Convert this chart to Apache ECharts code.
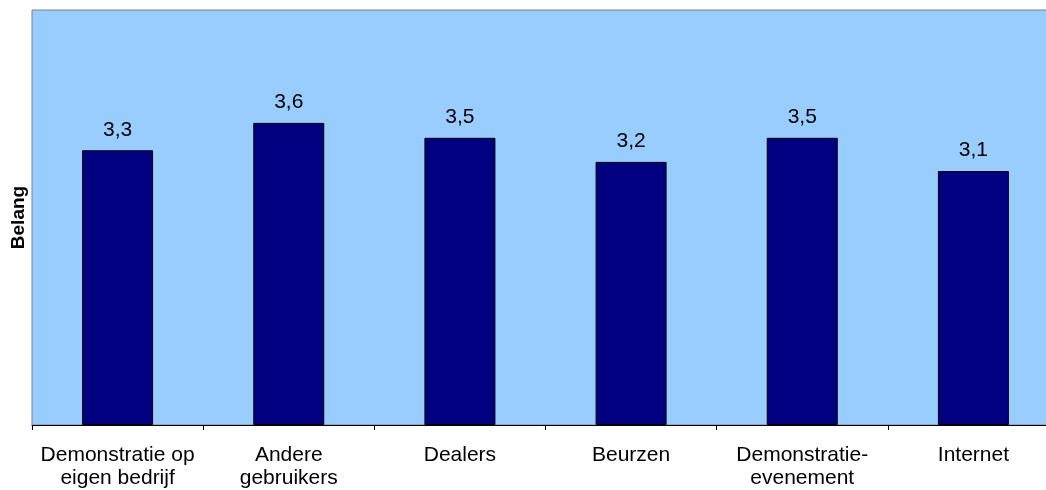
<!DOCTYPE html>
<html>
<head>
<meta charset="utf-8">
<script src="https://cdn.jsdelivr.net/npm/echarts@6/dist/echarts.min.js"></script>
<style>
  html, body { margin: 0; padding: 0; background: #fff; }
  #chart { width: 1046px; height: 490px; }
</style>
</head>
<body>
<div id="chart"></div>
<script>
// categorieen en gemiddelde scores
var categories = ['Demonstratie op\neigen bedrijf', 'Andere\ngebruikers', 'Dealers', 'Beurzen', 'Demonstratie-\nevenement', 'Internet'];
var scores = [3.31, 3.64, 3.46, 3.17, 3.46, 3.06];
var axisMin = 0;
var axisMax = 5;

var myChart = echarts.init(document.getElementById('chart'));
var option = {
    backgroundColor: '#ffffff',
    animation: false,
    grid: {
        left: 32,
        top: 10,
        width: 1027,
        height: 415,
        containLabel: false,
        outerBoundsMode: 'none',
        show: true,
        backgroundColor: '#99CCFF',
        borderColor: '#808080',
        borderWidth: 1
    },
    xAxis: {
        type: 'category',
        data: categories,
        boundaryGap: true,
        axisLine: { show: true, lineStyle: { color: '#000', width: 1 } },
        axisTick: { show: true, length: 5, lineStyle: { color: '#000' } },
        axisLabel: {
            interval: 0,
            margin: 19,
            color: '#000',
            fontFamily: 'Liberation Sans, Arial, sans-serif',
            fontSize: 21,
            lineHeight: 23
        }
    },
    yAxis: {
        type: 'value',
        min: axisMin,
        max: axisMax,
        name: 'Belang',
        nameLocation: 'middle',
        nameRotate: 90,
        nameGap: 4,
        nameTextStyle: {
            color: '#000',
            fontFamily: 'Liberation Sans, Arial, sans-serif',
            fontSize: 19,
            fontWeight: 'bold'
        },
        axisLine: { show: false },
        axisTick: { show: false },
        axisLabel: { show: false },
        splitLine: { show: false }
    },
    series: [{
        type: 'bar',
        data: scores,
        barWidth: 71,
        itemStyle: {
            color: '#000080',
            borderColor: '#000',
            borderWidth: 1
        },
        label: {
            show: true,
            position: 'top',
            distance: 10,
            color: '#000',
            fontFamily: 'Liberation Sans, Arial, sans-serif',
            fontSize: 21,
            formatter: function (p) {
                return p.value.toFixed(1).replace('.', ',');
            }
        }
    }]
};
myChart.setOption(option);
</script>
</body>
</html>
